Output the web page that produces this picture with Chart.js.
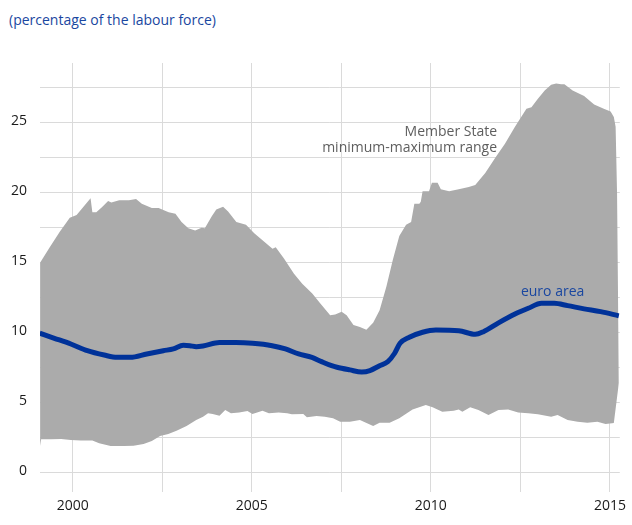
<!DOCTYPE html>
<html>
<head>
<meta charset="utf-8">
<script src="https://cdn.jsdelivr.net/npm/chart.js@4.4.1/dist/chart.umd.min.js"></script>
<style>
    html, body { margin: 0; padding: 0; background: #fff; }
    #wrap { position: relative; width: 632px; height: 525px; }
    #title {
        position: absolute; left: 9px; top: 10px;
        font-family: "Open Sans", sans-serif; font-size: 14px;
        color: #1a47a0; white-space: nowrap;
    }
    canvas { position: absolute; left: 0; top: 0; }
</style>
</head>
<body>
<div id="wrap">
    <div id="title">(percentage of the labour force)</div>
    <canvas id="chart" width="632" height="525"></canvas>
</div>
<script>
// Member State maximum
const maxYears = [1999.09, 1999.36, 1999.64, 1999.92, 2000.11, 2000.50, 2000.55, 2000.66, 2000.83, 2000.99,
    2001.08, 2001.30, 2001.57, 2001.77, 2001.93, 2002.21, 2002.40, 2002.68, 2002.87, 2003.04,
    2003.23, 2003.42, 2003.60, 2003.69, 2003.88, 2004.01, 2004.20, 2004.34, 2004.57, 2004.84,
    2005.07, 2005.35, 2005.58, 2005.67, 2005.90, 2006.18, 2006.41, 2006.69, 2006.91, 2007.19,
    2007.33, 2007.51, 2007.65, 2007.84, 2008.02, 2008.20, 2008.39, 2008.57, 2008.76, 2008.94,
    2009.12, 2009.31, 2009.45, 2009.54, 2009.68, 2009.72, 2009.77, 2009.95, 2010.03, 2010.19,
    2010.28, 2010.51, 2010.78, 2011.06, 2011.24, 2011.52, 2011.80, 2012.07, 2012.35, 2012.67,
    2012.81, 2012.99, 2013.18, 2013.36, 2013.50, 2013.64, 2013.73, 2013.96, 2014.28, 2014.56,
    2014.83, 2015.02, 2015.11, 2015.16, 2015.20, 2015.25];
const maxValues = [15.0, 16.1, 17.2, 18.2, 18.4, 19.6, 18.6, 18.6, 19.0, 19.4,
    19.3, 19.45, 19.45, 19.55, 19.2, 18.9, 18.9, 18.6, 18.5, 17.9,
    17.45, 17.3, 17.5, 17.45, 18.3, 18.8, 19.0, 18.65, 17.9, 17.7,
    17.1, 16.5, 16.0, 16.1, 15.3, 14.2, 13.5, 12.8, 12.1, 11.25,
    11.3, 11.5, 11.25, 10.55, 10.4, 10.2, 10.7, 11.6, 13.3, 15.2,
    16.9, 17.7, 17.9, 19.2, 19.2, 19.35, 20.1, 20.1, 20.7, 20.7,
    20.25, 20.1, 20.25, 20.4, 20.55, 21.4, 22.5, 23.5, 24.7, 26.0,
    26.1, 26.7, 27.3, 27.7, 27.8, 27.75, 27.75, 27.3, 26.9, 26.3,
    26.0, 25.8, 25.4, 24.7, 20.0, 6.5];

// Member State minimum
const minYears = [1999.09, 1999.12, 1999.40, 1999.68, 1999.95, 2000.23, 2000.55, 2000.74, 2001.06, 2001.43,
    2001.70, 2001.98, 2002.21, 2002.44, 2002.67, 2002.90, 2003.18, 2003.45, 2003.64, 2003.78,
    2003.91, 2004.10, 2004.26, 2004.42, 2004.65, 2004.88, 2005.02, 2005.30, 2005.48, 2005.75,
    2005.99, 2006.12, 2006.44, 2006.54, 2006.81, 2007.04, 2007.27, 2007.47, 2007.74, 2008.02,
    2008.39, 2008.57, 2008.85, 2009.12, 2009.49, 2009.86, 2010.05, 2010.32, 2010.64, 2010.78,
    2010.88, 2011.10, 2011.33, 2011.61, 2011.89, 2012.16, 2012.44, 2012.72, 2012.99, 2013.36,
    2013.54, 2013.82, 2014.10, 2014.37, 2014.65, 2014.88, 2015.06, 2015.11, 2015.25];
const minValues = [1.9, 2.38, 2.38, 2.4, 2.34, 2.3, 2.3, 2.1, 1.9, 1.9,
    1.93, 2.05, 2.26, 2.62, 2.76, 3.0, 3.33, 3.76, 4.0, 4.24,
    4.19, 4.07, 4.48, 4.24, 4.29, 4.4, 4.19, 4.43, 4.24, 4.29,
    4.24, 4.17, 4.19, 3.95, 4.05, 4.0, 3.88, 3.64, 3.64, 3.76,
    3.33, 3.57, 3.57, 3.88, 4.52, 4.84, 4.67, 4.36, 4.43, 4.52,
    4.36, 4.67, 4.48, 4.12, 4.48, 4.52, 4.29, 4.24, 4.17, 4.0,
    4.12, 3.76, 3.64, 3.57, 3.64, 3.48, 3.53, 3.55, 6.4];

// euro area
const euroYears = [1999.08, 1999.49, 1999.95, 2000.41, 2000.88, 2001.24, 2001.61, 2002.07, 2002.53, 2002.81,
    2003.09, 2003.27, 2003.45, 2003.64, 2004.10, 2004.56, 2005.02, 2005.57, 2005.94, 2006.31,
    2006.68, 2006.95, 2007.23, 2007.38, 2007.74, 2008.07, 2008.30, 2008.57, 2008.80, 2008.99,
    2009.14, 2009.40, 2009.77, 2010.14, 2010.78, 2011.24, 2011.47, 2011.89, 2012.35, 2012.72,
    2013.09, 2013.45, 2013.82, 2014.28, 2014.74, 2015.25];
const euroValues = [9.96, 9.6, 9.19, 8.71, 8.4, 8.24, 8.24, 8.48, 8.71, 8.84,
    9.1, 9.07, 9.0, 9.05, 9.29, 9.29, 9.24, 9.07, 8.84, 8.48,
    8.24, 7.93, 7.64, 7.53, 7.34, 7.19, 7.29, 7.64, 7.93, 8.53,
    9.24, 9.67, 10.03, 10.19, 10.14, 9.88, 10.07, 10.7, 11.33, 11.74,
    12.1, 12.1, 11.93, 11.7, 11.5, 11.2];

const yTicks = [0, 2.5, 5, 7.5, 10, 12.5, 15, 17.5, 20, 22.5, 25, 27.5];
const xTicks = [2000, 2002.5, 2005, 2007.5, 2010, 2012.5, 2015];

const toPoints = (xs, ys) => xs.map((x, i) => ({ x: x, y: ys[i] }));

const fontFamily = '"Open Sans", sans-serif';

// text labels inside the plot
const labelsPlugin = {
    id: 'labels',
    afterDatasetsDraw(chart) {
        const ctx = chart.ctx;
        const xs = chart.scales.x;
        const ys = chart.scales.y;
        ctx.save();
        ctx.font = '14px ' + fontFamily;
        ctx.textBaseline = 'middle';
        ctx.textAlign = 'right';
        ctx.fillStyle = '#5e5e5e';
        ctx.fillText('Member State', xs.getPixelForValue(2011.85), ys.getPixelForValue(24.36));
        ctx.fillText('minimum-maximum range', xs.getPixelForValue(2011.85), ys.getPixelForValue(23.17));
        ctx.textAlign = 'center';
        ctx.fillStyle = '#1a47a0';
        ctx.fillText('euro area', xs.getPixelForValue(2013.4), ys.getPixelForValue(12.89));
        ctx.restore();
    }
};

new Chart(document.getElementById('chart'), {
    type: 'line',
    data: {
        datasets: [
            {
                label: 'euro area',
                data: toPoints(euroYears, euroValues),
                borderColor: '#003299',
                borderWidth: 5,
                pointRadius: 0,
                fill: false,
                cubicInterpolationMode: 'monotone',
                borderCapStyle: 'butt',
                order: 0
            },
            {
                label: 'max',
                data: toPoints(maxYears, maxValues),
                borderWidth: 0,
                borderColor: 'rgba(0,0,0,0)',
                backgroundColor: '#ababab',
                pointRadius: 0,
                fill: { target: 2 },
                tension: 0,
                order: 1
            },
            {
                label: 'min',
                data: toPoints(minYears, minValues),
                borderWidth: 0,
                borderColor: 'rgba(0,0,0,0)',
                pointRadius: 0,
                fill: false,
                tension: 0,
                order: 2
            }
        ]
    },
    options: {
        responsive: false,
        animation: false,
        layout: { padding: { top: 63, right: 6, left: 0, bottom: 0 } },
        plugins: {
            legend: { display: false },
            tooltip: { enabled: false }
        },
        scales: {
            x: {
                type: 'linear',
                min: 1999.088,
                max: 2015.276,
                afterBuildTicks: scale => { scale.ticks = xTicks.map(v => ({ value: v })); },
                afterFit: scale => { scale.height = 33; },
                border: { display: false },
                grid: { color: '#dadada', lineWidth: 1, drawTicks: false },
                ticks: {
                    padding: 6,
                    maxRotation: 0,
                    autoSkip: false,
                    color: '#1a1a1a',
                    font: { family: fontFamily, size: 14 },
                    callback: v => (v % 5 === 0 ? String(v) : '')
                }
            },
            y: {
                min: -1.38,
                max: 29.26,
                afterBuildTicks: scale => { scale.ticks = yTicks.map(v => ({ value: v })); },
                afterFit: scale => { scale.width = 40; },
                border: { display: false },
                grid: { color: '#dadada', lineWidth: 1, drawTicks: false },
                ticks: {
                    padding: 13,
                    labelOffset: -2,
                    autoSkip: false,
                    color: '#1a1a1a',
                    font: { family: fontFamily, size: 14 },
                    callback: v => (v % 5 === 0 && v < 27 ? String(v) : '')
                }
            }
        }
    },
    plugins: [labelsPlugin]
});
</script>
</body>
</html>
